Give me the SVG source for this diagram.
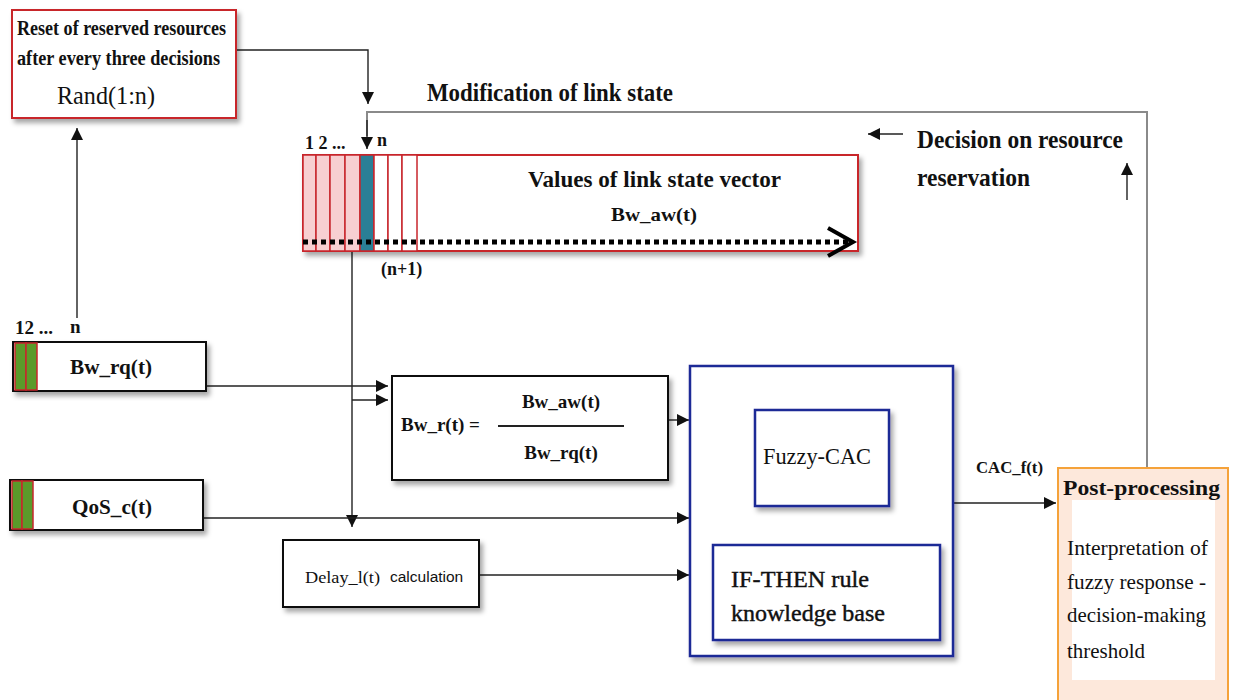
<svg xmlns="http://www.w3.org/2000/svg" width="1233" height="700" viewBox="0 0 1233 700">
  <defs>
    <filter id="shadow" x="-10%" y="-10%" width="130%" height="130%">
      <feDropShadow dx="3" dy="4" stdDeviation="2.5" flood-color="#000" flood-opacity="0.35"/>
    </filter>
    <marker id="arr" viewBox="0 0 10 10" refX="10" refY="5" markerWidth="12" markerHeight="12" markerUnits="userSpaceOnUse" orient="auto">
      <path d="M0,0 L10,5 L0,10 z" fill="#111"/>
    </marker>
    <marker id="arrRed" viewBox="0 0 10 10" refX="10" refY="5" markerWidth="16" markerHeight="16" markerUnits="userSpaceOnUse" orient="auto">
      <path d="M0,0 L10,5 L0,10 z" fill="#c0141c"/>
    </marker>
  </defs>
  <style>
    .t { font-family: "Liberation Serif", "Times New Roman", serif; fill: #111; }
    .b { font-weight: bold; }
    .s { font-family: "Liberation Sans", Arial, sans-serif; fill: #111; }
    .box { fill: #fff; stroke: #111; stroke-width: 2; }
    .redbox { fill: #fff; stroke: #c8262c; stroke-width: 2; }
    .bluebox { fill: #fff; stroke: #1f2a96; stroke-width: 2.5; }
    .line { fill: none; stroke: #222; stroke-width: 1.4; }
    .gray { fill: none; stroke: #8a8a8a; stroke-width: 2; }
    .pink { fill: #f7cfd1; stroke: #c8262c; stroke-width: 1.5; }
    .cell { fill: #fff; stroke: #c8262c; stroke-width: 1.5; }
    .green { fill: #5a9a2a; stroke: #c8262c; stroke-width: 1.5; }
  </style>

  <rect width="1233" height="700" fill="#fff"/>

  <!-- connectors -->
  <g id="connectors">
    <!-- reset box to link-state vector -->
    <path class="line" d="M236,50 H368 V104" marker-end="url(#arr)"/>
    <!-- request vector up to reset box -->
    <path class="line" d="M77,318 V128" marker-end="url(#arr)"/>
    <!-- feedback loop from post-processing -->
    <path class="gray" d="M1147,468 V112 H367 V136"/>
    <path class="line" d="M367,120 V149" marker-end="url(#arr)"/>
    <!-- decision arrows -->
    <path class="line" d="M903,134 H868" marker-end="url(#arr)"/>
    <path class="line" d="M1127,200 V163" marker-end="url(#arr)"/>
    <!-- link-state vector down to ratio and delay -->
    <path class="line" d="M352,251 V527" marker-end="url(#arr)"/>
    <path class="line" d="M352,400 H388" marker-end="url(#arr)"/>
    <path class="line" d="M206,386 H388" marker-end="url(#arr)"/>
    <!-- inputs to fuzzy block -->
    <path class="line" d="M668,420 H689" marker-end="url(#arr)"/>
    <path class="line" d="M203,518 H689" marker-end="url(#arr)"/>
    <path class="line" d="M479,575 H689" marker-end="url(#arr)"/>
    <!-- fuzzy output -->
    <path class="line" d="M953,503 H1056" marker-end="url(#arr)"/>
    <!-- rule base to fuzzy-CAC -->
    <path d="M820,545 V509" fill="none" stroke="#c0141c" stroke-width="3" marker-end="url(#arrRed)"/>
  </g>

  <!-- reset box -->
  <g id="reset">
    <rect class="redbox" x="12" y="10" width="224" height="108" filter="url(#shadow)"/>
    <text class="t b" x="17" y="35" font-size="21" textLength="209" lengthAdjust="spacingAndGlyphs">Reset of reserved resources</text>
    <text class="t b" x="17" y="65" font-size="21" textLength="203" lengthAdjust="spacingAndGlyphs">after every three decisions</text>
    <text class="t" x="57" y="104" font-size="26" textLength="98" lengthAdjust="spacingAndGlyphs">Rand(1:n)</text>
  </g>

  <!-- labels of the feedback loop -->
  <g id="loop-labels">
    <text class="t b" x="427" y="101" font-size="25" textLength="246" lengthAdjust="spacingAndGlyphs">Modification of link state</text>
    <text class="t b" x="917" y="148" font-size="25" textLength="206" lengthAdjust="spacingAndGlyphs">Decision on resource</text>
    <text class="t b" x="917" y="186" font-size="25" textLength="113" lengthAdjust="spacingAndGlyphs">reservation</text>
  </g>

  <!-- link-state vector -->
  <g id="vector">
    <rect class="redbox" x="303" y="155" width="555" height="96" filter="url(#shadow)"/>
    <rect class="pink" x="303" y="155" width="13" height="96"/>
    <rect class="pink" x="316" y="155" width="14" height="96"/>
    <rect class="pink" x="330" y="155" width="15" height="96"/>
    <rect class="pink" x="345" y="155" width="15" height="96"/>
    <rect x="360" y="155" width="14" height="96" fill="#2a7f96" stroke="#c8262c" stroke-width="1.5"/>
    <rect class="cell" x="374" y="155" width="14" height="96"/>
    <rect class="cell" x="388" y="155" width="14" height="96"/>
    <rect class="cell" x="402" y="155" width="15" height="96"/>
    <line x1="303" y1="242" x2="850" y2="242" stroke="#000" stroke-width="5" stroke-dasharray="5,4"/>
    <path d="M828,228 L853,242 L828,256" fill="none" stroke="#000" stroke-width="4"/>
    <text class="t b" x="528" y="187" font-size="24" textLength="253" lengthAdjust="spacingAndGlyphs">Values of link state vector</text>
    <text class="t b" x="611" y="221" font-size="19" textLength="86" lengthAdjust="spacingAndGlyphs">Bw_aw(t)</text>
    <text class="t b" x="305" y="149" font-size="18">1 2 ...</text>
    <text class="t b" x="377" y="146" font-size="18">n</text>
    <text class="t b" x="381" y="275" font-size="18">(n+1)</text>
  </g>

  <!-- requested bandwidth -->
  <g id="bw-rq">
    <text class="t b" x="15" y="334" font-size="19">12 ...</text>
    <text class="t b" x="70" y="333" font-size="19">n</text>
    <rect class="box" x="13" y="342" width="193" height="49" filter="url(#shadow)"/>
    <rect class="green" x="15" y="343" width="11" height="47"/>
    <rect class="green" x="26" y="343" width="11" height="47"/>
    <text class="t b" x="111" y="374" font-size="20" textLength="82" lengthAdjust="spacingAndGlyphs" text-anchor="middle">Bw_rq(t)</text>
  </g>

  <!-- QoS class -->
  <g id="qos">
    <rect class="box" x="10" y="480" width="193" height="50" filter="url(#shadow)"/>
    <rect class="green" x="12" y="481" width="10" height="48"/>
    <rect class="green" x="22" y="481" width="11" height="48"/>
    <text class="t b" x="112" y="514" font-size="20" textLength="80" lengthAdjust="spacingAndGlyphs" text-anchor="middle">QoS_c(t)</text>
  </g>

  <!-- bandwidth ratio -->
  <g id="bw-ratio">
    <rect class="box" x="392" y="376" width="276" height="104" filter="url(#shadow)"/>
    <text class="t b" x="401" y="431" font-size="19">Bw_r(t) =</text>
    <line x1="498" y1="426" x2="624" y2="426" stroke="#222" stroke-width="2"/>
    <text class="t b" x="561" y="408" font-size="19" text-anchor="middle">Bw_aw(t)</text>
    <text class="t b" x="561" y="459" font-size="19" text-anchor="middle">Bw_rq(t)</text>
  </g>

  <!-- delay calculation -->
  <g id="delay">
    <rect class="box" x="283" y="540" width="196" height="67" filter="url(#shadow)"/>
    <text class="t" x="305" y="583" font-size="17" textLength="75" lengthAdjust="spacingAndGlyphs">Delay_l(t)</text>
    <text class="s" x="390" y="582" font-size="15.5">calculation</text>
  </g>

  <!-- fuzzy controller -->
  <g id="fuzzy-block">
    <rect class="bluebox" x="690" y="366" width="263" height="290" filter="url(#shadow)"/>
  </g>
  <g id="fuzzy-cac">
    <rect class="bluebox" x="755" y="410" width="134" height="96" filter="url(#shadow)"/>
    <text class="t" x="763" y="464" font-size="23" textLength="108" lengthAdjust="spacingAndGlyphs">Fuzzy-CAC</text>
  </g>
  <g id="rule-base">
    <rect class="bluebox" x="713" y="545" width="227" height="95" filter="url(#shadow)"/>
    <text class="t" x="731" y="587" font-size="23" stroke="#111" stroke-width="0.4" textLength="138" lengthAdjust="spacingAndGlyphs">IF-THEN rule</text>
    <text class="t" x="731" y="621" font-size="23" stroke="#111" stroke-width="0.4" textLength="154" lengthAdjust="spacingAndGlyphs">knowledge base</text>
  </g>

  <text class="t b" x="976" y="473" font-size="16" textLength="67" lengthAdjust="spacingAndGlyphs">CAC_f(t)</text>

  <!-- post-processing -->
  <g id="post-processing">
    <rect x="1058" y="468" width="170" height="240" fill="#fde8db" stroke="#f5a23a" stroke-width="2"/>
    <rect x="1072" y="500" width="143" height="180" fill="#fff"/>
    <text class="t b" x="1063" y="495" font-size="22" textLength="157" lengthAdjust="spacingAndGlyphs">Post-processing</text>
    <text class="t" x="1067" y="555" font-size="21" textLength="141" lengthAdjust="spacingAndGlyphs">Interpretation of</text>
    <text class="t" x="1067" y="589" font-size="21" textLength="139" lengthAdjust="spacingAndGlyphs">fuzzy response -</text>
    <text class="t" x="1067" y="622" font-size="21" textLength="139" lengthAdjust="spacingAndGlyphs">decision-making</text>
    <text class="t" x="1067" y="658" font-size="21" textLength="78" lengthAdjust="spacingAndGlyphs">threshold</text>
  </g>
</svg>
